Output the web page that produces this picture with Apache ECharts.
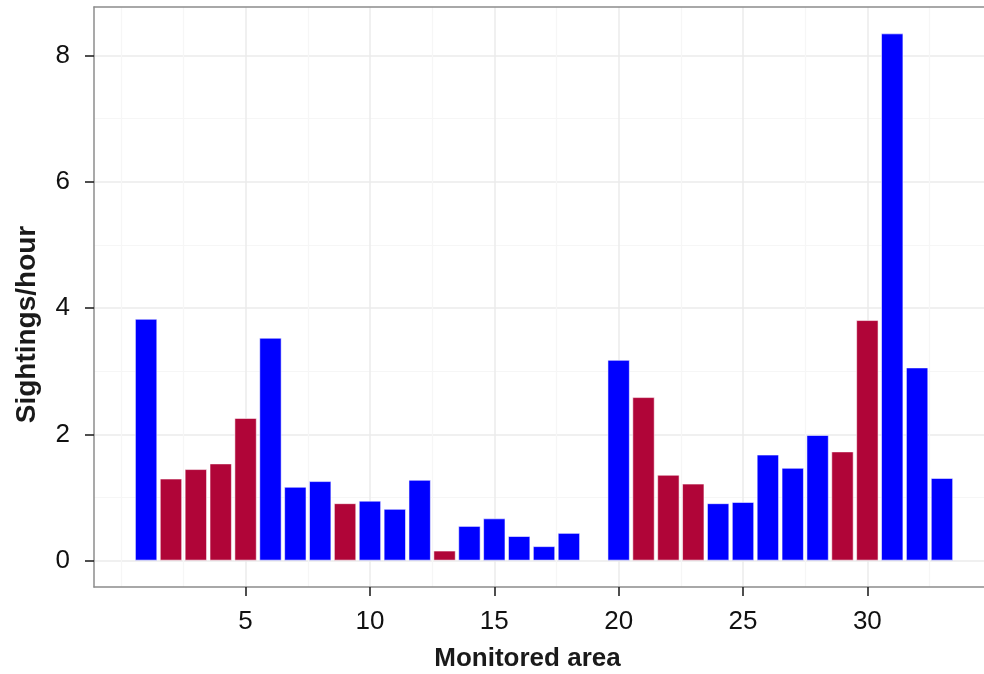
<!DOCTYPE html>
<html>
<head>
<meta charset="UTF-8">
<title>sightings</title>
<script src="https://cdn.jsdelivr.net/npm/echarts@6/dist/echarts.min.js"></script>
<style>
    html, body {margin: 0; padding: 0; background: #fff;}
    #main {width: 984px; height: 674px;}
</style>
</head>
<body>
<div id="main"></div>
<script type="text/javascript">
    // monitored areas 1..33, area 19 has no value
    var areas = [1, 2, 3, 4, 5, 6, 7, 8, 9, 10, 11, 12, 13, 14, 15, 16, 17,
        18, 19, 20, 21, 22, 23, 24, 25, 26, 27, 28, 29, 30, 31, 32, 33];
    var sightings = [3.83, 1.30, 1.45, 1.54, 2.26, 3.53, 1.17, 1.26, 0.91, 0.95, 0.82,
        1.28, 0.16, 0.55, 0.67, 0.39, 0.23, 0.44, null, 3.18, 2.59, 1.36, 1.22,
        0.91, 0.93, 1.68, 1.47, 1.99, 1.73, 3.81, 8.35, 3.06, 1.31];
    // 'A' = blue group, 'B' = red group
    var group = ['A', 'B', 'B', 'B', 'B', 'A', 'A', 'A', 'B', 'A', 'A', 'A', 'B', 'A',
        'A', 'A', 'A', 'A', 'A', 'A', 'B', 'B', 'B', 'A', 'A', 'A', 'A', 'A', 'B',
        'B', 'A', 'A', 'A'];
    var xTicks = [5, 10, 15, 20, 25, 30];
    var xMinor = [0, 2.5, 7.5, 12.5, 17.5, 22.5, 27.5, 32.5];
    var yTicks = [0, 2, 4, 6, 8];
    var yMinor = [1, 3, 5, 7];

    var colors = {A: '#0000ff', B: '#b00538'};
    var font = 'Liberation Sans, Arial, sans-serif';

    var barData = [];
    for (var i = 0; i < areas.length; i++) {
        barData.push({
            value: [areas[i], sightings[i]],
            itemStyle: {color: colors[group[i]]}
        });
    }

    // panel runs past the right edge of the picture
    var xmin = -1.095, xmax = 34.69, ymin = -0.4175, ymax = 8.7675;

    var myChart = echarts.init(document.getElementById('main'));
    var option = {
        animation: false,
        grid: {left: 94, top: 7, width: 890, height: 580, show: false, outerBoundsMode: 'none'},
        xAxis: [{
            type: 'value', min: xmin, max: xmax,
            name: 'Monitored area', nameLocation: 'middle', nameGap: 59,
            nameTextStyle: {fontSize: 26, fontWeight: 'bold', color: '#1a1a1a', fontFamily: font, padding: [0, 23, 0, 0]},
            axisLine: {show: true, onZero: false, lineStyle: {color: '#8c8c8c', width: 1.5}},
            axisTick: {show: true, length: 9, customValues: xTicks, lineStyle: {color: '#222', width: 1.6}},
            axisLabel: {customValues: xTicks, fontSize: 26, color: '#111', fontFamily: font, margin: 22},
            splitLine: {show: true, lineStyle: {color: '#ebebeb', width: 1.5}}
        }, {
            // top border + minor grid
            type: 'value', min: xmin, max: xmax, position: 'top',
            axisLine: {show: true, onZero: false, lineStyle: {color: '#8c8c8c', width: 1.5}},
            axisTick: {show: false, customValues: xMinor},
            axisLabel: {show: false},
            splitLine: {show: true, lineStyle: {color: '#f6f6f6', width: 1.2}}
        }],
        yAxis: [{
            type: 'value', min: ymin, max: ymax,
            name: 'Sightings/hour', nameLocation: 'middle', nameGap: 53, nameRotate: 90,
            nameTextStyle: {fontSize: 28, fontWeight: 'bold', color: '#1a1a1a', fontFamily: font, padding: [0, 55, 0, 0]},
            axisLine: {show: true, onZero: false, lineStyle: {color: '#8c8c8c', width: 1.5}},
            axisTick: {show: true, length: 9, customValues: yTicks, lineStyle: {color: '#222', width: 1.6}},
            axisLabel: {customValues: yTicks, fontSize: 26, color: '#111', fontFamily: font, margin: 24},
            splitLine: {show: true, lineStyle: {color: '#ebebeb', width: 1.5}}
        }, {
            type: 'value', min: ymin, max: ymax, position: 'left',
            axisLine: {show: false},
            axisTick: {show: false, customValues: yMinor},
            axisLabel: {show: false},
            splitLine: {show: true, lineStyle: {color: '#f6f6f6', width: 1.2}}
        }],
        series: [{
            name: 'Sightings/hour',
            type: 'bar',
            xAxisIndex: 0,
            yAxisIndex: 0,
            barWidth: 22.4,
            itemStyle: {borderColor: 'rgba(255,255,255,0.55)', borderWidth: 1},
            data: barData
        }]
    };
    myChart.setOption(option);
</script>
</body>
</html>
